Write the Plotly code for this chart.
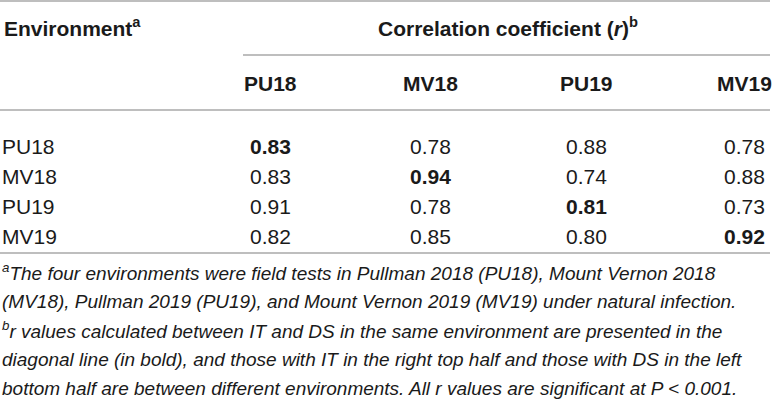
import plotly.graph_objects as go

W, H = 772, 401

environments = ["PU18", "MV18", "PU19", "MV19"]
columns = ["PU18", "MV18", "PU19", "MV19"]
r_values = [
    [0.83, 0.78, 0.88, 0.78],
    [0.83, 0.94, 0.74, 0.88],
    [0.91, 0.78, 0.81, 0.73],
    [0.82, 0.85, 0.80, 0.92],
]
footnotes = [
    "<sup>a</sup>The four environments were field tests in Pullman 2018 (PU18), Mount Vernon 2018",
    "(MV18), Pullman 2019 (PU19), and Mount Vernon 2019 (MV19) under natural infection.",
    "<sup>b</sup>r values calculated between IT and DS in the same environment are presented in the",
    "diagonal line (in bold), and those with IT in the right top half and those with DS in the left",
    "bottom half are between different environments. All r values are significant at P &lt; 0.001.",
]

# layout in pixels
col_x = [270, 430, 586, 744]
row_y = [146, 176, 206, 236]
note_y = [272, 301, 330, 359, 388]
FONT = "Liberation Sans, Arial, sans-serif"
TXT = "#1a1a1a"
RULE = "#a8a8a8"

fig = go.Figure()
ann = []

ann.append(dict(x=2, y=27, text="<b>Environment<sup>a</sup></b>", xanchor="left",
                font=dict(size=21, color=TXT)))
ann.append(dict(x=508, y=27, text="<b>Correlation coefficient (<i>r</i>)<sup>b</sup></b>",
                xanchor="center", font=dict(size=21, color=TXT)))

for cx, c in zip(col_x, columns):
    ann.append(dict(x=cx, y=83, text="<b>%s</b>" % c, xanchor="center",
                    font=dict(size=21, color=TXT)))

for i, (ry, env) in enumerate(zip(row_y, environments)):
    ann.append(dict(x=0, y=ry, text=env, xanchor="left", font=dict(size=21, color=TXT)))
    for j, cx in enumerate(col_x):
        t = "%.2f" % r_values[i][j]
        if i == j:
            t = "<b>%s</b>" % t  # diagonal in bold
        ann.append(dict(x=cx, y=ry, text=t, xanchor="center", font=dict(size=21, color=TXT)))

for ny, line in zip(note_y, footnotes):
    ann.append(dict(x=0, y=ny, text="<i>%s</i>" % line, xanchor="left",
                    font=dict(size=19, color=TXT)))

for a in ann:
    a.update(xref="x", yref="y", showarrow=False, yanchor="middle")

shapes = [
    dict(type="line", x0=0, x1=770, y0=1, y1=1),
    dict(type="line", x0=243, x1=770, y0=55, y1=55),
    dict(type="line", x0=0, x1=770, y0=110, y1=110),
    dict(type="line", x0=0, x1=770, y0=253, y1=253),
]
for s in shapes:
    s.update(xref="x", yref="y", line=dict(color=RULE, width=1.5))

fig.update_layout(
    width=W, height=H,
    margin=dict(l=0, r=0, t=0, b=0),
    paper_bgcolor="white", plot_bgcolor="white",
    font=dict(family=FONT),
    xaxis=dict(range=[0, W], visible=False, fixedrange=True),
    yaxis=dict(range=[H, 0], visible=False, fixedrange=True),
    annotations=ann, shapes=shapes, showlegend=False,
)

fig.write_html("out.html", config={"displayModeBar": False},
               post_script="document.body.style.margin='0';")
